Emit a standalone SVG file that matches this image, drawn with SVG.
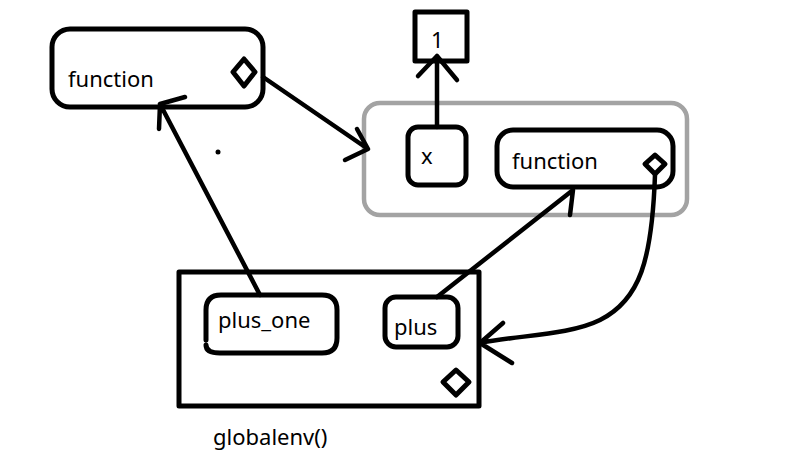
<svg xmlns="http://www.w3.org/2000/svg" width="788" height="459" viewBox="0 0 788 459">
<style>
.box{fill:none;stroke:#000;stroke-width:5;stroke-linejoin:round;stroke-linecap:round}
.ln{fill:none;stroke:#000;stroke-width:4.5;stroke-linecap:round;stroke-linejoin:round}
.env{fill:none;stroke:#a3a3a3;stroke-width:4.5}
.t{font-family:"Noto Sans","Open Sans",sans-serif;font-size:22px;fill:#000}
</style>
<rect width="788" height="459" fill="#fff"/>
<g id="env-fn">
<rect class="env" x="364" y="103" width="323" height="112" rx="16"/>
</g>
<g id="fn-top">
<rect class="box" x="52" y="29" width="211" height="78" rx="18"/>
<text class="t" x="68" y="87">function</text>
<polygon class="box" points="244,59 255,72 244,86 233,72"/>
</g>
<g id="one">
<rect class="box" x="415" y="12" width="52" height="49"/>
<text class="t" x="431" y="48">1</text>
</g>
<g id="x">
<rect class="box" x="408" y="127" width="58" height="58" rx="10"/>
<text class="t" x="421" y="164">x</text>
</g>
<g id="fn-inner">
<rect class="box" x="497" y="130" width="176" height="57" rx="16"/>
<text class="t" x="512" y="169">function</text>
<polygon class="box" points="655,155 665,164 655,174 645,164"/>
</g>
<g id="globalenv">
<rect class="box" x="179" y="272" width="300" height="134" stroke-linejoin="miter"/>
<polygon class="box" points="456,370 469,382 456,395 443,382"/>
<text class="t" x="213" y="445">globalenv()</text>
</g>
<g id="plus_one">
<path class="box" d="M206,340 L206,310 Q206,295 221,295 L322,295 Q337,295 337,310 L337,338 Q337,353 322,353 L220,353 Q206,353 206,345"/>
<text class="t" x="218" y="328">plus_one</text>
</g>
<g id="plus">
<rect class="box" x="385" y="297" width="73" height="50" rx="11"/>
<text class="t" x="394" y="335">plus</text>
</g>
<g id="connectors">
<path class="ln" d="M263,77 L368,149 M357,129 L368,149 L345,160"/>
<path class="ln" d="M437,127 L437,56 M418,76 L437,56 L457,80"/>
<path class="ln" d="M437,297 L573,190 L570,215"/>
<path class="ln" d="M260,295 L160,104 M185,97 L160,104 L159,129"/>
<path class="ln" d="M655,175 C652,260 640,300 600,320 C570,335 520,335 480,343 M503,323 L480,343 L512,363"/>
<circle cx="218" cy="152" r="2.5" fill="#000"/>
</g>
</svg>
